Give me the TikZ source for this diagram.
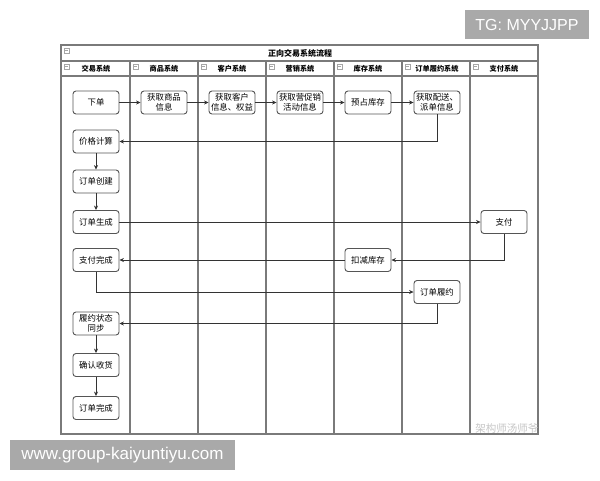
\documentclass[tikz,border=0pt]{standalone}
\usepackage{fontspec}
\setmainfont{Noto Sans CJK SC}
\newfontfamily\wmfont{Liberation Sans}
\usetikzlibrary{arrows.meta}
\definecolor{lanegray}{HTML}{7A7A7A}
\definecolor{boxgray}{HTML}{555555}
\definecolor{wmgray}{HTML}{A9A9A9}
\tikzset{
  stepbox/.style={draw=boxgray, line width=0.9pt, rounded corners=3pt, fill=white,
    minimum width=46pt, minimum height=23pt, inner sep=1pt, align=center,
    font=\fontsize{8.4}{10}\selectfont},
  arr/.style={draw=black!80, line width=0.6pt, -{Stealth[length=4.5pt,width=4pt]}},
  lane/.style={draw=lanegray, line width=1.1pt},
  hdr/.style={font=\fontsize{7.2}{8}\selectfont\bfseries},
  icon/.style={draw=gray!70, line width=0.4pt, fill=white}
}
\begin{document}
\begin{tikzpicture}[x=1pt,y=-1pt]
\useasboundingbox (0,0) rectangle (600,480);
\fill[white] (0,0) rectangle (600,480);
% frame
\draw[lane] (61,45) rectangle (538,434);
\draw[lane] (61,61) -- (538,61);
\draw[lane] (61,76) -- (538,76);
\foreach \x in {130,198,266,334,402,470} \draw[lane] (\x,61) -- (\x,434);
% icons
\foreach \x in {61,130,198,266,334,402,470} {
  \draw[icon] (\x+3,64) rectangle ++(5,5);
  \draw[gray!70, line width=0.4pt] (\x+4,66.5) -- ++(3,0);
}
\draw[icon] (64,48) rectangle ++(5,5);
\draw[gray!70, line width=0.4pt] (65,50.5) -- ++(3,0);
% titles
\node[font=\fontsize{8}{9}\selectfont\bfseries] (title) at (300,53) {正向交易系统流程};
\node[hdr] (h1) at (96,68.5) {交易系统};
\node[hdr] (h2) at (164,68.5) {商品系统};
\node[hdr] (h3) at (232,68.5) {客户系统};
\node[hdr] (h4) at (300,68.5) {营销系统};
\node[hdr] (h5) at (368,68.5) {库存系统};
\node[hdr] (h6) at (437,68.5) {订单履约系统};
\node[hdr] (h7) at (504,68.5) {支付系统};
% boxes
\node[stepbox] (xd) at (96,102.5) {下单};
\node[stepbox] (sp) at (164,102.5) {获取商品\\信息};
\node[stepbox] (kh) at (232,102.5) {获取客户\\信息、权益};
\node[stepbox] (yx) at (300,102.5) {获取营促销\\活动信息};
\node[stepbox] (yz) at (368,102.5) {预占库存};
\node[stepbox] (ps) at (437,102.5) {获取配送、\\派单信息};
\node[stepbox] (jg) at (96,141.5) {价格计算};
\node[stepbox] (cj) at (96,181.5) {订单创建};
\node[stepbox] (sc) at (96,222) {订单生成};
\node[stepbox] (zw) at (96,260) {支付完成};
\node[stepbox] (tb) at (96,323.5) {履约状态\\同步};
\node[stepbox] (qr) at (96,365) {确认收货};
\node[stepbox] (wc) at (96,408) {订单完成};
\node[stepbox] (zf) at (504,222) {支付};
\node[stepbox] (kj) at (368,260) {扣减库存};
\node[stepbox] (ly) at (437,292) {订单履约};
% connectors
\draw[arr] (xd) -- (sp);
\draw[arr] (sp) -- (kh);
\draw[arr] (kh) -- (yx);
\draw[arr] (yx) -- (yz);
\draw[arr] (yz) -- (ps);
\draw[arr] (ps.south) |- (jg.east);
\draw[arr] (jg) -- (cj);
\draw[arr] (cj) -- (sc);
\draw[arr] (sc) -- (zf);
\draw[arr] (zf.south) |- (kj.east);
\draw[arr] (kj) -- (zw);
\draw[arr] (zw.south) |- (ly.west);
\draw[arr] (ly.south) |- (tb.east);
\draw[arr] (tb) -- (qr);
\draw[arr] (qr) -- (wc);
% watermarks
\node[text=gray!45, font=\fontsize{10.5}{10.5}\selectfont, anchor=east] (wm3) at (542,429) {架构师汤师爷};
\fill[wmgray] (465,10) rectangle (589,39);
\node[text=white, font=\wmfont\fontsize{16}{16}\selectfont] (wm1) at (527,24.5) {TG: MYYJJPP};
\fill[wmgray] (10,440) rectangle (235,470);
\node[text=white, font=\wmfont\fontsize{17}{17}\selectfont] (wm2) at (122.5,455) {www.group-kaiyuntiyu.com};
\end{tikzpicture}
\end{document}
